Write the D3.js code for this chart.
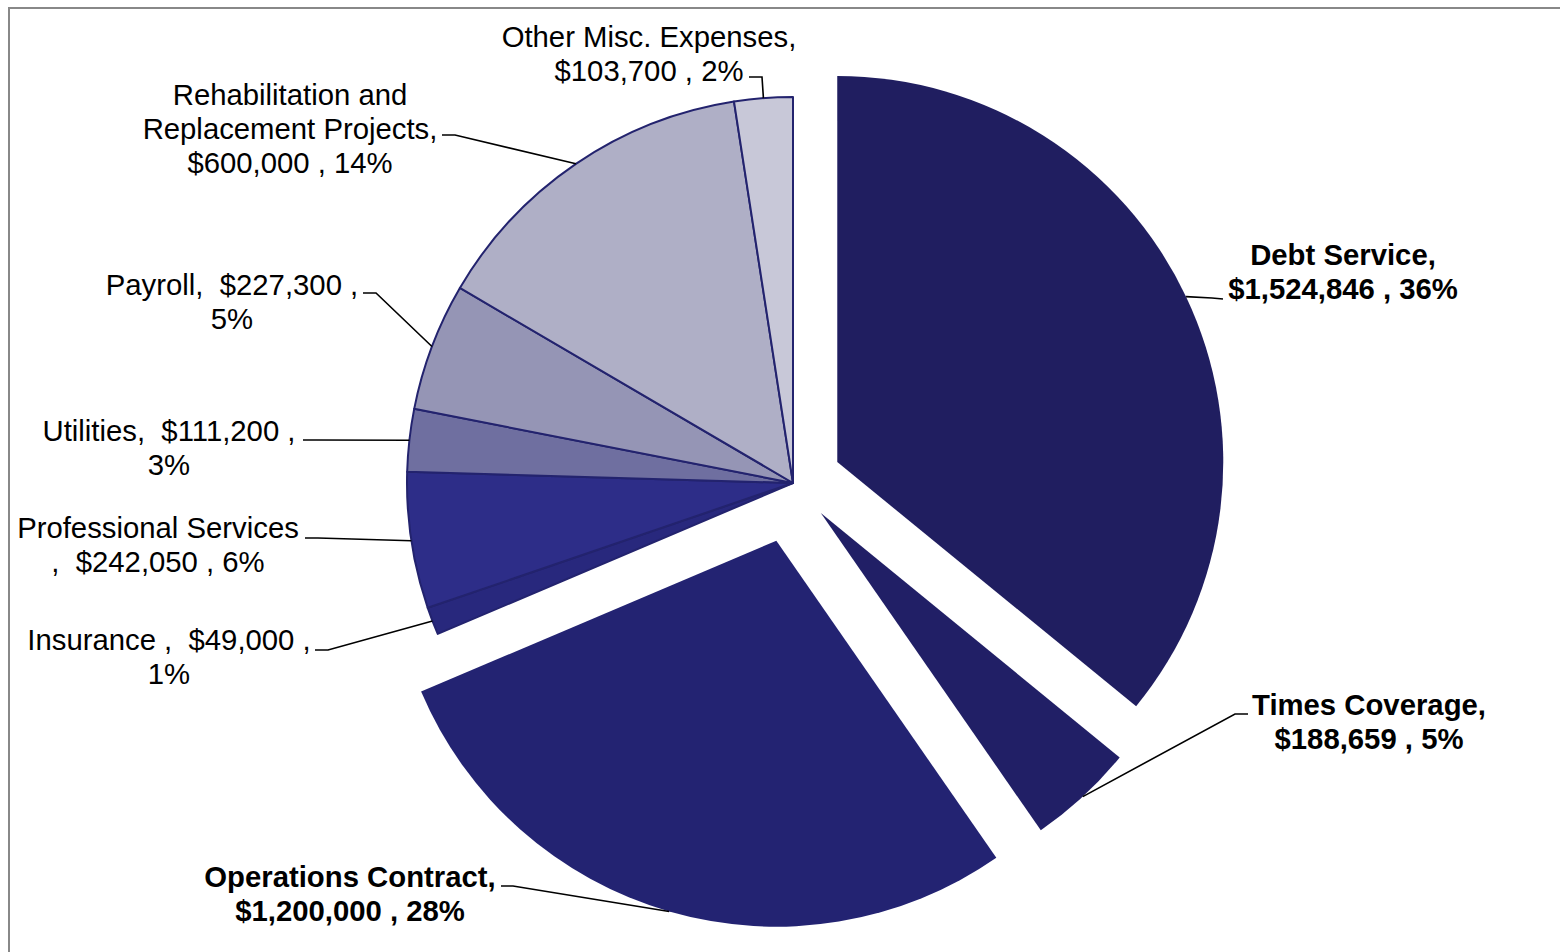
<!DOCTYPE html>
<html lang="en">
<head>
<meta charset="UTF-8" />
<title>Expense pie</title>
<script src="https://d3js.org/d3.v7.min.js"></script>
<style>
  body { margin: 0; background: #fff; }
  text { font-family: "Liberation Sans", Arial, sans-serif; font-size: 29.3px; fill: #000; white-space: pre; }
</style>
</head>
<body>
<script>
// data, clockwise from 12 o'clock
var categories = ["Debt Service", "Times Coverage", "Operations Contract", "Insurance",
  "Professional Services", "Utilities", "Payroll", "Rehabilitation and Replacement Projects",
  "Other Misc. Expenses"];
var values = [1524846, 188659, 1200000, 49000, 242050, 111200, 227300, 600000, 103700];
var percents = [36, 5, 28, 1, 6, 3, 5, 14, 2];

// label text templates ({v} value, {p} percent)
var labelLines = [
  ["Debt Service,", "{v} , {p}"],
  ["Times Coverage,", "{v} , {p}"],
  ["Operations Contract,", "{v} , {p}"],
  ["Insurance ,  {v} ,", "{p}"],
  ["Professional Services", ",  {v} , {p}"],
  ["Utilities,  {v} ,", "{p}"],
  ["Payroll,  {v} ,", "{p}"],
  ["Rehabilitation and", "Replacement Projects,", "{v} , {p}"],
  ["Other Misc. Expenses,", "{v} , {p}"]
];

var colors = ["#201E60", "#211F66", "#232372", "#28287D", "#2D2D88", "#6F6FA0", "#9595B5", "#AFAFC6", "#C8C8D8"];
var explode = [49, 41, 60, 0, 0, 0, 0, 0, 0];
var bold = [true, true, true, false, false, false, false, false, false];

// label layout: text centre x, first baseline y, leader elbow [x1,y1,x2,y2]
var labelPos = [
  {x: 1343, y: 265, h: [1223, 299, 1212, 298]},
  {x: 1369, y: 715, h: [1248, 714, 1235, 714]},
  {x: 350, y: 887, h: [501, 886, 513, 886]},
  {x: 169, y: 650, h: [315, 650, 328, 650]},
  {x: 158, y: 538, h: [305, 538, 318, 538]},
  {x: 169, y: 441, h: [303, 440, 316, 440]},
  {x: 232, y: 295, h: [363, 293, 376, 293]},
  {x: 290, y: 105, h: [442, 135, 455, 135]},
  {x: 649, y: 47, h: [749, 77, 762, 77]}
];

var width = 1560, height = 952;
var cx = 793, cy = 483, radius = 386;
var lineH = 34;

var svg = d3.select("body").append("svg")
  .attr("width", width)
  .attr("height", height);

svg.append("rect")
  .attr("x", 9).attr("y", 8)
  .attr("width", width + 10).attr("height", height + 10)
  .attr("fill", "#fff")
  .attr("stroke", "#888")
  .attr("stroke-width", 2);

var pie = d3.pie().sort(null).value(function(d) { return d; });
var arcs = pie(values);

var arc = d3.arc().innerRadius(0).outerRadius(radius);

function offset(d, i) {
  var a = (d.startAngle + d.endAngle) / 2;
  return [Math.sin(a) * explode[i], -Math.cos(a) * explode[i]];
}

var g = svg.append("g").attr("transform", "translate(" + cx + "," + cy + ")");

g.selectAll("path.slice")
  .data(arcs)
  .enter().append("path")
  .attr("class", "slice")
  .attr("d", arc)
  .attr("transform", function(d, i) { var o = offset(d, i); return "translate(" + o[0] + "," + o[1] + ")"; })
  .attr("fill", function(d, i) { return colors[i]; })
  .attr("stroke", function(d, i) { return explode[i] ? "none" : "#23236E"; })
  .attr("stroke-width", 2)
  .attr("stroke-linejoin", "round");

// leader lines
var fmt = d3.format("$,");
svg.append("g").selectAll("path")
  .data(arcs)
  .enter().append("path")
  .attr("fill", "none")
  .attr("stroke", "#000")
  .attr("stroke-width", 1.6)
  .attr("d", function(d, i) {
    var a = (d.startAngle + d.endAngle) / 2, o = offset(d, i);
    var ax = cx + o[0] + Math.sin(a) * radius, ay = cy + o[1] - Math.cos(a) * radius;
    var h = labelPos[i].h;
    return "M" + h[0] + "," + h[1] + "L" + h[2] + "," + h[3] + "L" + ax + "," + ay;
  });

// labels
var labels = svg.append("g").selectAll("text")
  .data(arcs)
  .enter().append("text")
  .attr("text-anchor", "middle")
  .attr("font-weight", function(d, i) { return bold[i] ? "bold" : "normal"; })
  .attr("x", function(d, i) { return labelPos[i].x; })
  .attr("y", function(d, i) { return labelPos[i].y; });

labels.each(function(d, i) {
  var t = d3.select(this);
  labelLines[i].forEach(function(line, k) {
    t.append("tspan")
      .attr("x", labelPos[i].x)
      .attr("y", labelPos[i].y + k * lineH)
      .text(line.replace("{v}", fmt(values[i])).replace("{p}", percents[i] + "%"));
  });
});
</script>
</body>
</html>
